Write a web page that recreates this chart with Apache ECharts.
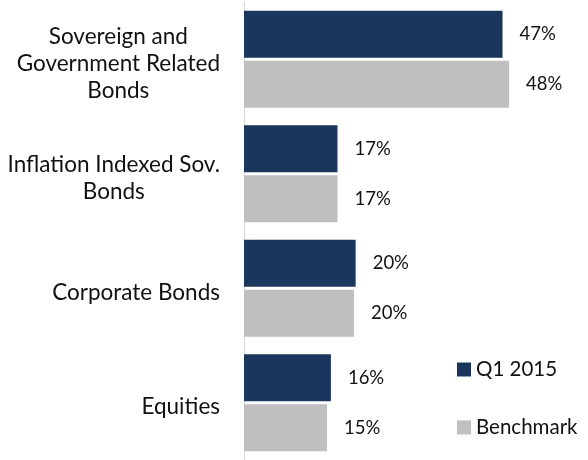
<!DOCTYPE html>
<html>
<head>
<meta charset="utf-8">
<script src="https://cdn.jsdelivr.net/npm/echarts@6/dist/echarts.min.js"></script>
<style>
html, body { margin: 0; padding: 0; background: #fff; }
#chart { width: 588px; height: 460px; }
</style>
</head>
<body>
<div id="chart"></div>
<script>
var categories = ['Sovereign and\nGovernment Related\nBonds', 'Inflation Indexed Sov.\nBonds', 'Corporate Bonds', 'Equities'];
var q1Values = [47, 17, 20.3, 15.8];
var benchValues = [48.2, 17, 20, 15.1];
var seriesNames = ['Q1 2015', 'Benchmark'];

// centre each line of a category label inside its block
var centerLines = function (text) {
    return text.split('\n').map(function (s) { return '{c|' + s + '}'; }).join('\n');
};

var pctLabel = {
    show: true,
    position: 'right',
    distance: 17,
    fontFamily: 'Lato',
    fontSize: 18.5,
    color: '#111',
    padding: [3, 0, 0, 0],
    formatter: function (p) { return Math.round(p.value) + '%'; }
};

var option = {
    animation: false,
    grid: { left: 244, right: 14, top: 2, bottom: -10 },
    legend: {
        orient: 'vertical',
        left: 452,
        top: 354,
        itemWidth: 14,
        itemHeight: 14,
        itemGap: 37,
        icon: 'rect',
        textStyle: { fontFamily: 'Lato', fontSize: 20.5, color: '#111' },
        data: seriesNames
    },
    xAxis: {
        type: 'value',
        min: 0,
        max: 60,
        show: false
    },
    yAxis: {
        type: 'category',
        inverse: true,
        data: categories,
        axisLine: { show: true, lineStyle: { color: '#d9d9d9', width: 1 } },
        axisTick: { show: false },
        axisLabel: {
            margin: 24,
            fontFamily: 'Lato',
            fontSize: 22.5,
            color: '#111',
            lineHeight: 27,
            padding: [8, 0, 0, 0],
            formatter: centerLines,
            rich: { c: { align: 'center', fontFamily: 'Lato', fontSize: 22.5, color: '#111', lineHeight: 27 } }
        }
    },
    series: [{
        name: seriesNames[0],
        type: 'bar',
        data: q1Values,
        barWidth: 47,
        barGap: '6%',
        itemStyle: { color: '#1b365d' },
        label: pctLabel
    }, {
        name: seriesNames[1],
        type: 'bar',
        data: benchValues,
        barWidth: 47,
        barGap: '6%',
        itemStyle: { color: '#bfbfbf' },
        label: pctLabel
    }]
};

var mychart = echarts.init(document.getElementById('chart'));
mychart.setOption(option);
</script>
</body>
</html>
